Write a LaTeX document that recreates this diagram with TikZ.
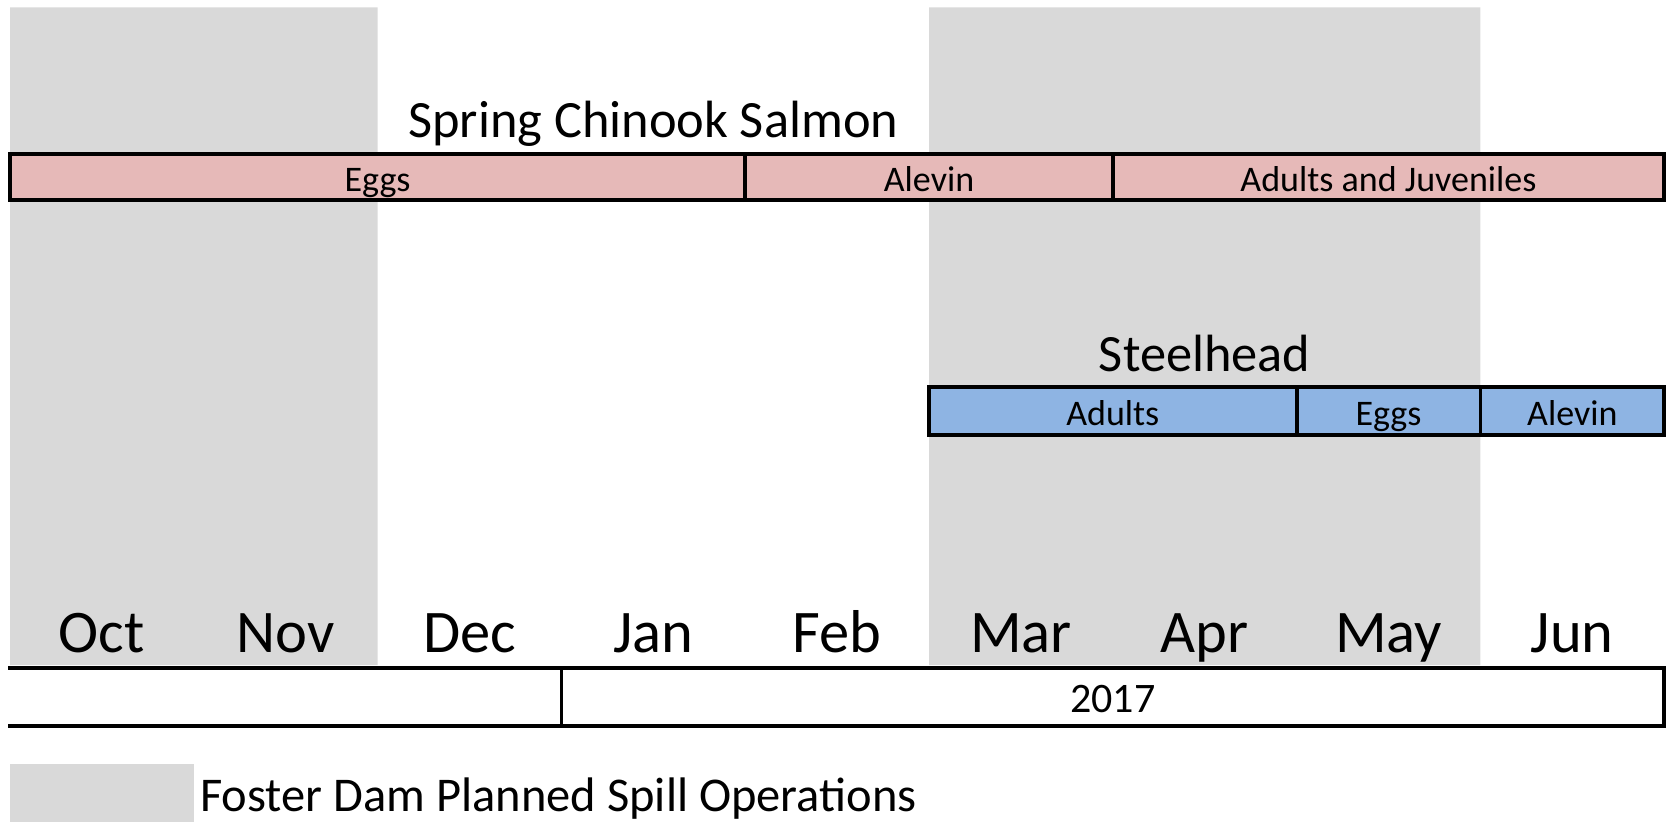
\documentclass[tikz,border=0pt]{standalone}
\usepackage{fontspec}
\setmainfont{Carlito}
\definecolor{spill}{HTML}{D9D9D9}
\definecolor{chinook}{HTML}{E6B9B8}
\definecolor{steel}{HTML}{8EB4E3}
\begin{document}
\begin{tikzpicture}[x=183.8pt, y=1pt, line join=miter,
	bar/.style={draw, line width=3.8pt, inner sep=0pt, outer sep=0pt, minimum height=46pt, text height=29pt, text depth=0pt, font=\fontsize{36}{43}\selectfont},
	title/.style={anchor=base, inner sep=0pt, font=\fontsize{52.4}{62}\selectfont},
	month/.style={anchor=base, inner sep=0pt, font=\fontsize{60.5}{72}\selectfont}]
	\def\mw{183.8pt}
	\def\yc{645.3}
	\def\ys{411}
	\def\ym{170}
	\def\yy{125}
	\useasboundingbox (-10pt,0) rectangle (1659pt,822pt);
	\fill[spill] (0,157) rectangle (2,814.5) (5,157) rectangle (8,814.5);
	\node[title] (chinook) at (3.5,684) {Spring Chinook Salmon};
	\node[bar, fill=chinook, minimum width=4*\mw] (ck-eggs) at (2,\yc) {Eggs};
	\node[bar, fill=chinook, minimum width=2*\mw] (ck-alevin) at (5,\yc) {Alevin};
	\node[bar, fill=chinook, minimum width=3*\mw] (ck-adults) at (7.5,\yc) {Adults and Juveniles};
	\node[title] (steelhead) at (6.5,450) {Steelhead};
	\node[bar, fill=steel, minimum height=48pt, minimum width=2*\mw] (sh-adults) at (6,\ys) {Adults};
	\node[bar, fill=steel, minimum height=48pt, minimum width=\mw] (sh-eggs) at (7.5,\ys) {Eggs};
	\node[bar, fill=steel, minimum height=48pt, minimum width=\mw] (sh-alevin) at (8.5,\ys) {Alevin};
	\path (0.5,\ym) node[month] (oct) {Oct} (1.5,\ym) node[month] (nov) {Nov}
	(2.5,\ym) node[month] (dec) {Dec} (3.5,\ym) node[month] (jan) {Jan}
	(4.5,\ym) node[month] (feb) {Feb} (5.5,\ym) node[month] (mar) {Mar}
	(6.5,\ym) node[month] (apr) {Apr} (7.5,\ym) node[month] (may) {May}
	(8.5,\ym) node[month] (jun) {Jun};
	\node[bar, fill=white, minimum width=6*\mw, minimum height=58pt, text height=30pt, font=\fontsize{42}{50}\selectfont] (yr) at (6,\yy) {2017};
	\draw[line width=3.8pt, line cap=rect] (0,154) -- (yr.north west) (0,96) -- (yr.south west);
	\node[fill=spill, minimum width=\mw, minimum height=58pt, inner sep=0pt, anchor=south west] (spillkey) at (0,0) {};
	\node[anchor=base west, inner sep=0pt, font=\fontsize{48.5}{58}\selectfont] (spilltext) at (1.034,11) {Foster Dam Planned Spill Operations};
\end{tikzpicture}
\end{document}
